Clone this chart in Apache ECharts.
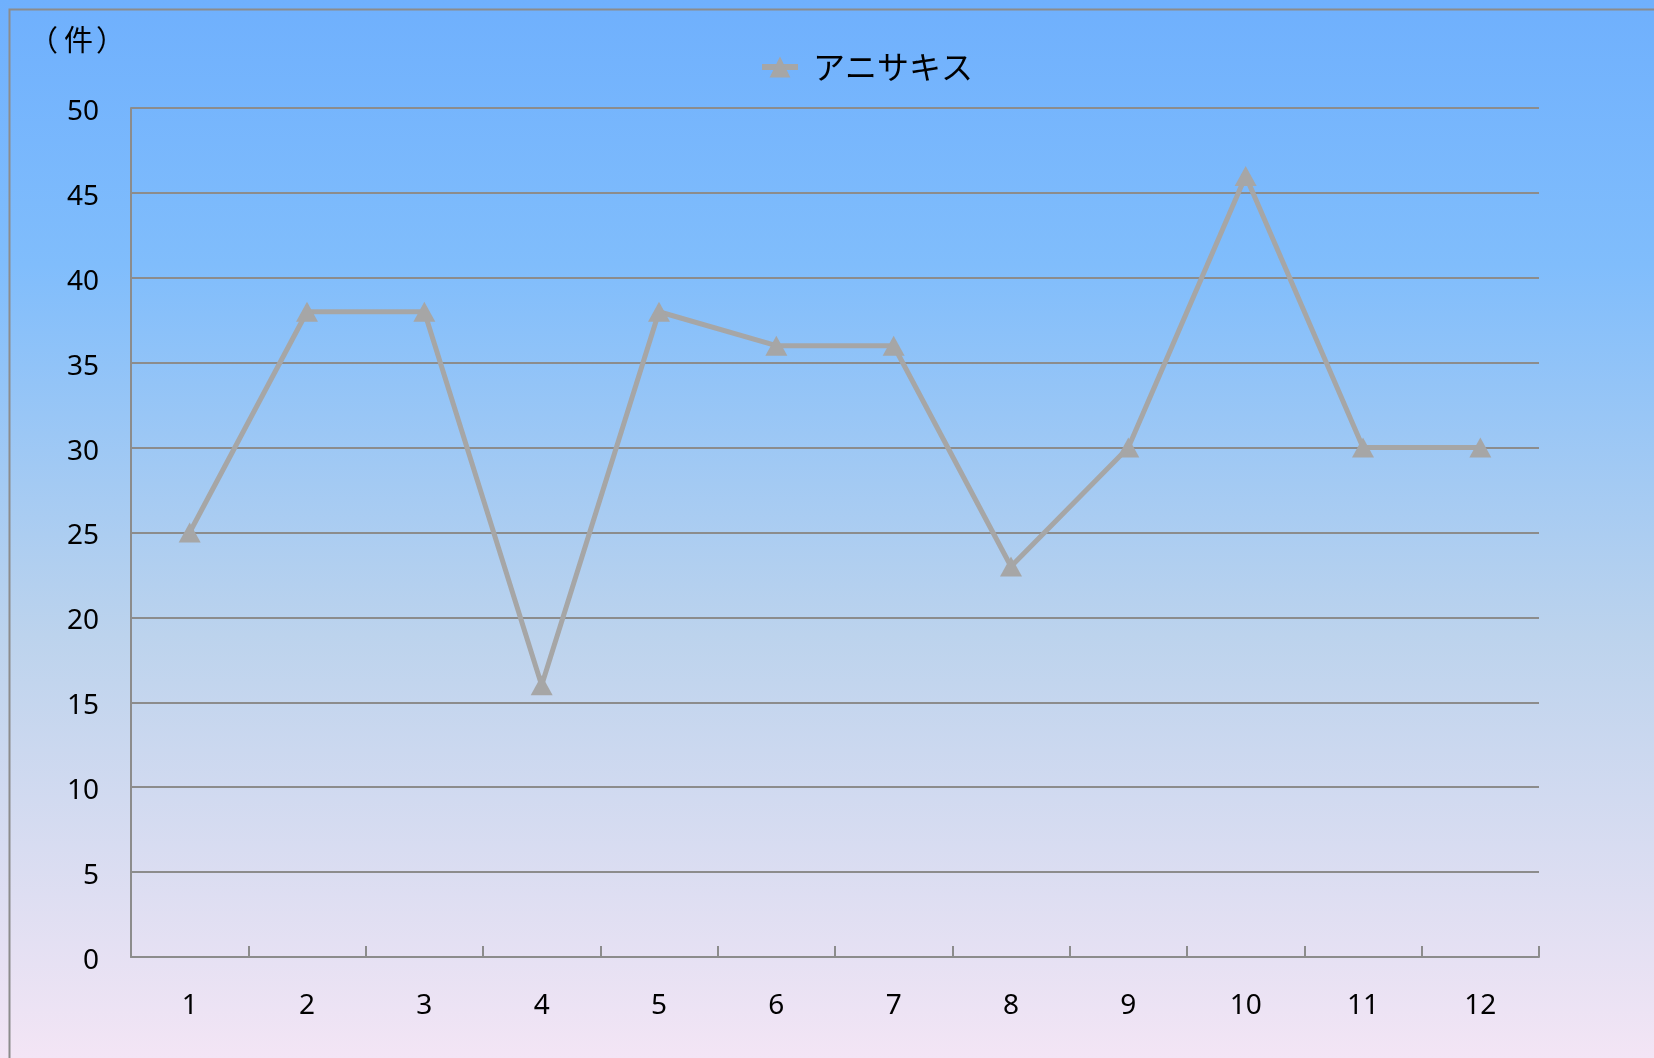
<!DOCTYPE html>
<html>
<head>
<meta charset="utf-8">
<style>
  html, body { margin: 0; padding: 0; }
  #chart { width: 1654px; height: 1058px; }
</style>
<script src="https://cdn.jsdelivr.net/npm/echarts@6/dist/echarts.min.js"></script>
</head>
<body>
<div id="chart"></div>
<script>
const months = ['1', '2', '3', '4', '5', '6', '7', '8', '9', '10', '11', '12'];
const anisakisCounts = [25, 38, 38, 16, 38, 36, 36, 23, 30, 46, 30, 30];
const seriesName = 'アニサキス';
const yMin = 0;
const yMax = 50;
const yStep = 5;

const labelFont = '"Noto Sans", "Noto Sans CJK JP", sans-serif';
const gray = '#a6a6a6';
const axisGray = '#8c8c8c';

let myChart = null;

function initChart() {
    myChart = echarts.init(document.getElementById('chart'));

    // 縦軸の単位（括弧を全角幅で並べる）
    const unitFont = '29px "Noto Sans CJK JP"';
    const unitParts = [
        { text: '（', x: 29 },
        { text: '件', x: 64 },
        { text: '）', x: 96 }
    ].map(p => ({
        type: 'text',
        x: p.x,
        y: 40,
        style: { text: p.text, font: unitFont, fill: '#000', verticalAlign: 'middle' }
    }));

    const option = {
        backgroundColor: new echarts.graphic.LinearGradient(0, 0, 0, 1, [
            { offset: 0, color: '#6fb0fd' },
            { offset: 0.25, color: '#80bdfc' },
            { offset: 0.6, color: '#bcd3ed' },
            { offset: 1, color: '#f3e5f5' }
        ]),
        animation: false,
        graphic: [
            {
                type: 'rect',
                shape: { x: 9.5, y: 9.5, width: 1700, height: 1100 },
                style: { fill: 'none', stroke: axisGray, lineWidth: 2 }
            }
        ].concat(unitParts),
        legend: {
            data: [seriesName],
            left: 754,
            top: 46,
            itemWidth: 36,
            itemHeight: 26,
            lineStyle: { width: 6 },
            textStyle: {
                fontFamily: '"Noto Sans CJK JP"',
                fontSize: 32,
                color: '#000',
                padding: [0, 0, 0, 10]
            }
        },
        grid: {
            left: 131,
            right: 115,
            top: 108,
            bottom: 101,
            containLabel: false
        },
        xAxis: {
            type: 'category',
            data: months,
            boundaryGap: true,
            axisLine: { show: true, lineStyle: { color: axisGray, width: 2 } },
            axisTick: {
                show: true,
                inside: true,
                length: 11,
                lineStyle: { color: axisGray, width: 2 }
            },
            axisLabel: {
                margin: 35,
                fontFamily: labelFont,
                fontSize: 28,
                color: '#000'
            }
        },
        yAxis: {
            type: 'value',
            min: yMin,
            max: yMax,
            interval: yStep,
            axisLine: { show: true, lineStyle: { color: axisGray, width: 2 } },
            axisTick: { show: false },
            axisLabel: {
                margin: 32,
                verticalAlign: 'top',
                lineHeight: 8,
                fontFamily: labelFont,
                fontSize: 28,
                color: '#000'
            },
            splitLine: { show: true, lineStyle: { color: axisGray, width: 2 } }
        },
        series: [{
            name: seriesName,
            type: 'line',
            data: anisakisCounts,
            symbol: 'triangle',
            symbolSize: [22, 20],
            itemStyle: { color: gray },
            lineStyle: { color: gray, width: 5 }
        }]
    };

    myChart.setOption(option);
}

window.addEventListener('resize', () => {
    if (myChart) myChart.resize();
});

window.onload = initChart;
</script>
</body>
</html>
